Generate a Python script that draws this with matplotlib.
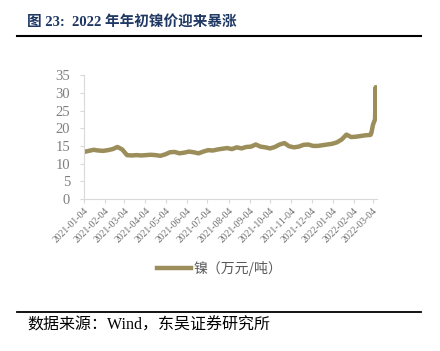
import matplotlib.pyplot as plt
import matplotlib.dates as mdates
import pandas as pd

plt.rcParams['font.family'] = ['Liberation Serif', 'Noto Sans CJK SC', 'DejaVu Sans']

# weekly readings (Mondays) 2021-01-04 .. 2022-02-28, then daily in March 2022
weekly_start = '2021-01-04'
weekly_vals = [
    13.3, 13.6, 13.9, 13.7,
    13.6, 13.8, 14.1, 14.7, 14.0,
    12.4, 12.3, 12.4, 12.3,
    12.4, 12.5, 12.4, 12.2,
    12.6, 13.2, 13.3, 12.9, 13.1,
    13.4, 13.2, 12.9, 13.4,
    13.8, 13.7, 14.0, 14.2,
    14.4, 14.1, 14.6, 14.3, 14.7,
    14.8, 15.4, 14.8, 14.6,
    14.3, 14.7, 15.4, 15.8,
    14.9, 14.6, 14.8, 15.3, 15.4,
    15.0, 15.0, 15.2, 15.4,
    15.6, 16.0, 16.8, 18.2, 17.5,
    17.6, 17.8, 18.0, 18.1,
]
march_dates = ['2022-03-01', '2022-03-02', '2022-03-03', '2022-03-04',
               '2022-03-07', '2022-03-08', '2022-03-09']
march_vals = [18.3, 19.0, 20.0, 21.0, 22.5, 31.6, 23.2]

tick_dates = pd.date_range('2021-01-01', '2022-03-04', freq='MS') + pd.Timedelta(days=3)
series_name = '镍（万元/吨）'

dates = list(pd.date_range(weekly_start, periods=len(weekly_vals), freq='7D')) + list(pd.to_datetime(march_dates))
vals = weekly_vals + march_vals
df = pd.DataFrame({'date': dates, 'nickel': vals})

color = '#9B8E5B'
grey = '#7f7f7f'

fig = plt.figure(figsize=(4.4, 3.51), dpi=100)
ax = fig.add_axes([0.191, 0.433, 0.666, 0.353])
ax.plot(df['date'], df['nickel'], color=color, lw=3.2, solid_joinstyle='round')

ax.set_ylim(0, 35)
ax.set_yticks(range(0, 36, 5))
ax.set_xlim(pd.Timestamp('2021-01-04'), pd.Timestamp('2022-03-10'))
ax.set_xticks(tick_dates)
ax.xaxis.set_major_formatter(mdates.DateFormatter('%Y-%m-%d'))
for lab in ax.get_xticklabels():
    lab.set_rotation(45)
    lab.set_ha('right')
    lab.set_rotation_mode('anchor')
ax.tick_params(axis='x', labelsize=7, colors='#d9d9d9', labelcolor='#6f6f6f', length=3, pad=2)
ax.tick_params(axis='y', labelsize=10.5, colors='#d9d9d9', labelcolor=grey, length=3, pad=7)
for s in ['top', 'right']:
    ax.spines[s].set_visible(False)
for s in ['left', 'bottom']:
    ax.spines[s].set_color('#d9d9d9')

# legend
fig.add_artist(plt.Line2D([157 / 440, 191 / 440], [1 - 268 / 351] * 2, color=color, lw=3.2))
fig.text(193 / 440, 1 - 268 / 351, series_name, fontsize=10, color='#595959', va='center',
         family=['Noto Sans CJK SC'])

# title and source
fig.text(27 / 440, 1 - 22 / 351, '图 23:  2022 年年初镍价迎来暴涨', fontsize=10.5, fontweight='bold',
         color='#1F3864', va='center', family=['Liberation Serif', 'Noto Sans CJK SC'])
fig.add_artist(plt.Line2D([17 / 440, 421 / 440], [1 - 36 / 351] * 2, color='black', lw=1.5))
fig.add_artist(plt.Line2D([17 / 440, 421 / 440], [1 - 312 / 351] * 2, color='black', lw=1.3))
fig.text(27 / 440, 1 - 326 / 351, '数据来源：Wind，东吴证券研究所', fontsize=11.5, color='black',
         va='center', family=['Liberation Serif', 'Noto Sans CJK SC'])

fig.savefig('out.png', dpi=100)
